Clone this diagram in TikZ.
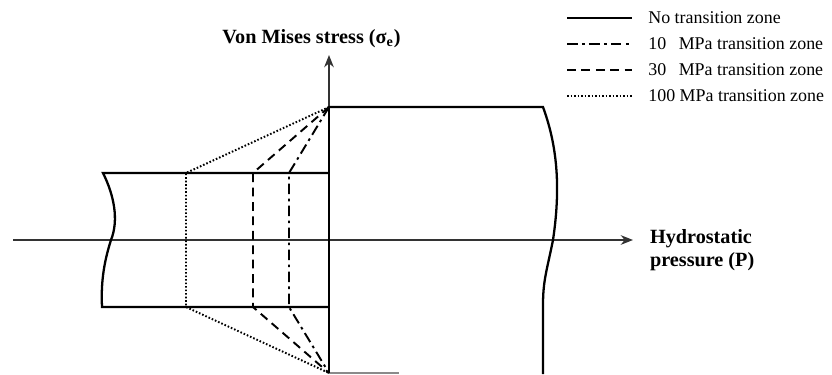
\documentclass[tikz,border=0pt]{standalone}
\usepackage{fontspec}
\setmainfont{Liberation Serif}
\usepackage{tikz}
\usetikzlibrary{arrows.meta, calc, positioning}

\tikzset{
  axis/.style={->, line width=0.7pt, black!80},
  block/.style={line width=1.3pt},
  zone10/.style={line width=1.1pt, dash pattern=on 6pt off 2.5pt on 1.5pt off 2.5pt},
  zone30/.style={line width=1.1pt, dash pattern=on 5pt off 3.2pt},
  zone100/.style={line width=1.1pt, dash pattern=on 0.9pt off 1.1pt},
  lbl/.style={font=\fontsize{11.5}{13}\selectfont\bfseries, inner sep=1pt},
  keytext/.style={font=\fontsize{10.2}{12}\selectfont, anchor=west, inner sep=0pt}
}

\begin{document}
\begin{tikzpicture}[scale=0.2, >={Stealth[length=7pt, width=5.5pt]}]
    \useasboundingbox (-32.9,24) rectangle (50.3,-13.4);

    % Axes
    \coordinate (O) at (0,0);
    \coordinate (xstart) at (-31.6,0);
    \coordinate (xend) at (30.4,0);
    \coordinate (ystart) at (0,-13.3);
    \coordinate (yend) at (0,18.5);
    \draw[axis] (xstart) -- (xend);
    \draw[axis] (ystart) -- (yend);
    \node[lbl, above=3pt of yend, xshift=-0.35cm] (vm) {Von Mises stress (σ\textsubscript{e})};
    \node[lbl, align=left, anchor=west, right=0.3cm of xend, yshift=-0.2cm] (hp) {Hydrostatic\\pressure (P)};

    % Corners where the transition lines meet
    \coordinate (top) at (0,13.3);
    \coordinate (bot) at (0,-13.3);

    % Right block (high stress)
    \draw[block] (top) -- (21.4,13.3) .. controls (22.6,10) and (23.3,6) .. (22.4,0)
      .. controls (21.8,-3) and (21.4,-4) .. (21.4,-6.5) -- (21.4,-13.4);
    \draw[line width=0.6pt, black!70] (bot) -- (7,-13.3);

    % Left block (low stress)
    \draw[block] (0,6.7) -- (-22.6,6.7) .. controls (-21.5,4.5) and (-21.0,2) .. (-21.8,0)
      .. controls (-22.6,-2.5) and (-22.8,-4.5) .. (-22.7,-6.7) -- (0,-6.7);
    \draw[block] (top) -- (bot);

    % Transition zones
    \foreach \xx/\st in {-14.3/zone100, -7.6/zone30, -4.0/zone10} {
      \draw[\st] (top) -- (\xx,6.7) -- (\xx,-6.7) -- (bot);
    }

    % Legend
    \foreach \yy/\st/\tx in {22.2/block/{No transition zone},
                             19.6/zone10/{10\hspace{0.7em}MPa transition zone},
                             17.0/zone30/{30\hspace{0.7em}MPa transition zone},
                             14.4/zone100/{100 MPa transition zone}} {
      \draw[\st] (23.8,\yy) -- (30.3,\yy);
      \node[keytext] at (31.9,\yy) {\tx};
    }
  \end{tikzpicture}
\end{document}
